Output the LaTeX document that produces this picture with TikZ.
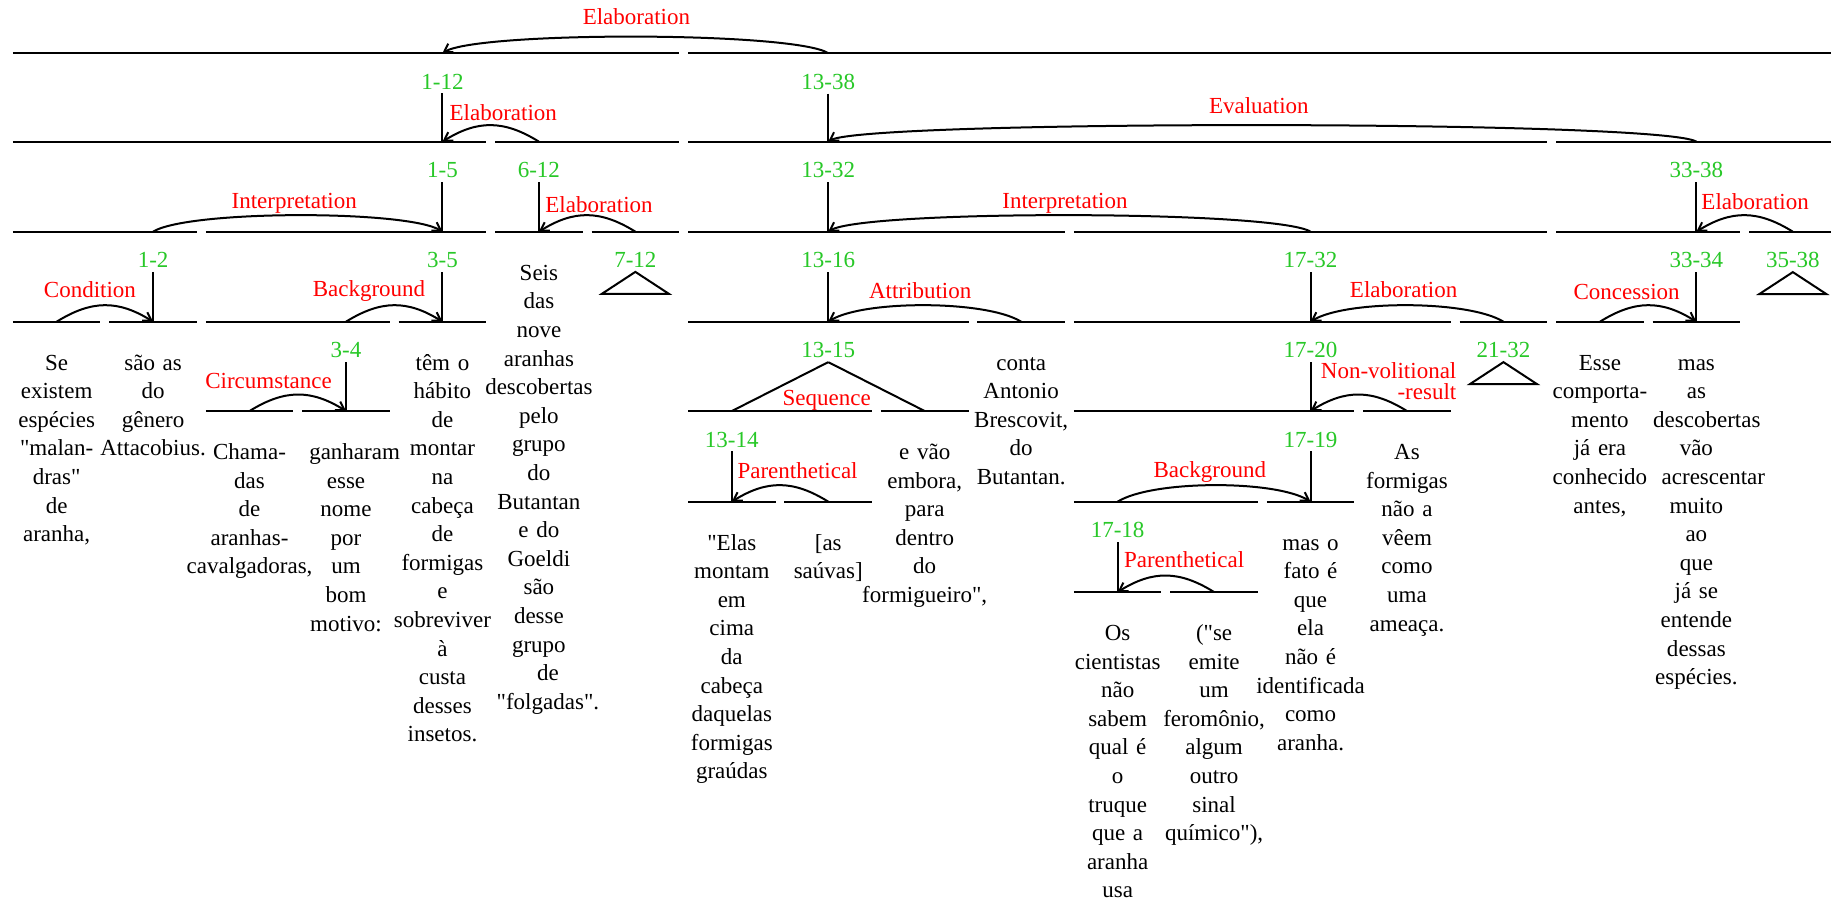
\documentclass[tikz,border=0pt]{standalone}
\usepackage{fontspec}
\setmainfont{Liberation Serif}[Ligatures=TeXOff]
\usetikzlibrary{arrows.meta,calc}
\definecolor{spangreen}{RGB}{40,200,40}
\definecolor{relred}{RGB}{255,0,0}

\begin{document}
\begin{tikzpicture}[
  x=0.58385pt, y=-0.58385pt,
  line width=1pt,
  spanlabel/.style={text=spangreen, anchor=base, inner sep=1.5pt, font=\fontsize{11.5}{14.3}\selectfont},
  rellabel/.style={text=relred, anchor=base, inner sep=0pt, font=\fontsize{11.5}{14.3}\selectfont},
  edu/.style={anchor=base, inner sep=0pt, text width=80pt, align=center, font=\fontsize{11.5}{14.3}\selectfont},
  relarc/.style={-{Straight Barb[length=4pt,width=5pt]},
    to path={.. controls ($(\tikztostart)!17.5pt!(\tikztotarget)+(0,10.9pt)$)
      and ($(\tikztotarget)!17.5pt!(\tikztostart)+(0,10.9pt)$) .. (\tikztotarget)}}
]
\fill[white] (0,0) rectangle (1568,773);
\useasboundingbox (0,0) rectangle (1568,773);

% span bars, one level at a time
\draw (11,45.5) -- (581.6,45.5) (589.2,45.5) -- (1568,45.5);
\draw (11,121.3) -- (416.4,121.3) (424,121.3) -- (581.6,121.3)
      (589.2,121.3) -- (1325,121.3) (1332.6,121.3) -- (1568,121.3);
\draw (11,198.4) -- (168.6,198.4) (176.2,198.4) -- (416.4,198.4)
      (424,198.4) -- (499,198.4) (506.6,198.4) -- (581.6,198.4)
      (589.2,198.4) -- (912,198.4) (919.6,198.4) -- (1325,198.4)
      (1332.6,198.4) -- (1490.2,198.4) (1497.8,198.4) -- (1568,198.4);
\draw (11,275.5) -- (86,275.5) (93.6,275.5) -- (168.6,275.5)
      (176.2,275.5) -- (333.8,275.5) (341.4,275.5) -- (416.4,275.5)
      (589.2,275.5) -- (829.4,275.5) (837,275.5) -- (912,275.5)
      (919.6,275.5) -- (1242.4,275.5) (1250,275.5) -- (1325,275.5)
      (1332.6,275.5) -- (1407.6,275.5) (1415.2,275.5) -- (1490.2,275.5);
\draw (176.2,352) -- (251.2,352) (258.8,352) -- (333.8,352)
      (589.2,352) -- (746.8,352) (754.4,352) -- (829.4,352)
      (919.6,352) -- (1159.8,352) (1167.4,352) -- (1242.4,352);
\draw (589.2,429.6) -- (664.2,429.6) (671.8,429.6) -- (746.8,429.6)
      (919.6,429.6) -- (1077.2,429.6) (1084.8,429.6) -- (1159.8,429.6);
\draw (919.6,507) -- (994.6,507) (1002.2,507) -- (1077.2,507);

% span numbers
\node[spanlabel] (s1_12) at (378.9,76.5) {1-12};
\node[spanlabel] (s13_38) at (709.3,76.5) {13-38};
\node[spanlabel] (s1_5) at (378.9,152.3) {1-5};
\node[spanlabel] (s6_12) at (461.5,152.3) {6-12};
\node[spanlabel] (s13_32) at (709.3,152.3) {13-32};
\node[spanlabel] (s33_38) at (1452.7,152.3) {33-38};
\node[spanlabel] (s1_2) at (131.1,229.4) {1-2};
\node[spanlabel] (s3_5) at (378.9,229.4) {3-5};
\node[spanlabel] (s7_12) at (544.1,229.4) {7-12};
\node[spanlabel] (s13_16) at (709.3,229.4) {13-16};
\node[spanlabel] (s17_32) at (1122.3,229.4) {17-32};
\node[spanlabel] (s33_34) at (1452.7,229.4) {33-34};
\node[spanlabel] (s35_38) at (1535.3,229.4) {35-38};
\node[spanlabel] (s3_4) at (296.3,306.5) {3-4};
\node[spanlabel] (s13_15) at (709.3,306.5) {13-15};
\node[spanlabel] (s17_20) at (1122.3,306.5) {17-20};
\node[spanlabel] (s21_32) at (1287.5,306.5) {21-32};
\node[spanlabel] (s13_14) at (626.7,383) {13-14};
\node[spanlabel] (s17_19) at (1122.3,383) {17-19};
\node[spanlabel] (s17_18) at (957.1,460.6) {17-18};

% where the nuclei meet their bar
\coordinate (r1_12) at (378.9,45.5);
\coordinate (r13_38) at (709.3,45.5);
\coordinate (b1_12) at (378.9,121.3);
\coordinate (b13_38) at (709.3,121.3);
\coordinate (b1_5) at (378.9,198.4);
\coordinate (b6_12) at (461.5,198.4);
\coordinate (b13_32) at (709.3,198.4);
\coordinate (b33_38) at (1452.7,198.4);
\coordinate (b1_2) at (131.1,275.5);
\coordinate (b3_5) at (378.9,275.5);
\coordinate (b13_16) at (709.3,275.5);
\coordinate (b17_32) at (1122.3,275.5);
\coordinate (b33_34) at (1452.7,275.5);
\coordinate (b3_4) at (296.3,352);
\coordinate (b17_20) at (1122.3,352);
\coordinate (b13_14) at (626.7,429.6);
\coordinate (b17_19) at (1122.3,429.6);
\coordinate (b17_18) at (957.1,507);

% where the satellites leave their bar
\coordinate (t6_12) at (461.5,121.3);
\coordinate (t33_38) at (1452.7,121.3);
\coordinate (t1_2) at (131.1,198.4);
\coordinate (t7_12) at (544.1,198.4);
\coordinate (t17_32) at (1122.3,198.4);
\coordinate (t35_38) at (1535.3,198.4);
\coordinate (t1) at (48.5,275.5);
\coordinate (t3_4) at (296.3,275.5);
\coordinate (t16) at (874.5,275.5);
\coordinate (t21_32) at (1287.5,275.5);
\coordinate (t33) at (1370.1,275.5);
\coordinate (t3) at (213.7,352);
\coordinate (t13_14) at (626.7,352);
\coordinate (t15) at (791.9,352);
\coordinate (t20) at (1204.9,352);
\coordinate (t14) at (709.3,429.6);
\coordinate (t17_18) at (957.1,429.6);
\coordinate (t18) at (1039.7,507);

% stems
\draw (s1_12.south) -- (b1_12);
\draw (s13_38.south) -- (b13_38);
\draw (s1_5.south) -- (b1_5);
\draw (s6_12.south) -- (b6_12);
\draw (s13_32.south) -- (b13_32);
\draw (s33_38.south) -- (b33_38);
\draw (s1_2.south) -- (b1_2);
\draw (s3_5.south) -- (b3_5);
\draw (s13_16.south) -- (b13_16);
\draw (s17_32.south) -- (b17_32);
\draw (s33_34.south) -- (b33_34);
\draw (s3_4.south) -- (b3_4);
\draw (s17_20.south) -- (b17_20);
\draw (s13_14.south) -- (b13_14);
\draw (s17_19.south) -- (b17_19);
\draw (s17_18.south) -- (b17_18);

% collapsed subtrees
\draw (s7_12.south) -- ++(28.7,18.8) -- ++(-57.4,0) -- cycle;
\draw (s35_38.south) -- ++(28.7,18.8) -- ++(-57.4,0) -- cycle;
\draw (s21_32.south) -- ++(28.7,18.8) -- ++(-57.4,0) -- cycle;

% multinuclear
\draw (s13_15.south) -- (t13_14);
\draw (s13_15.south) -- (t15);

% relation names
\node[rellabel] (l1_38) at (545,20.8) {Elaboration};
\node[rellabel] (l1_12) at (431,103.5) {Elaboration};
\node[rellabel] (l13_38) at (1078,97.5) {Evaluation};
\node[rellabel] (l1_5) at (252,178.5) {Interpretation};
\node[rellabel] (l6_12) at (513,182) {Elaboration};
\node[rellabel] (l13_32) at (912,178.5) {Interpretation};
\node[rellabel] (l33_38) at (1503,179) {Elaboration};
\node[rellabel] (l1_2) at (77,254.5) {Condition};
\node[rellabel] (l3_5) at (316,253.5) {Background};
\node[rellabel] (l13_16) at (788,256) {Attribution};
\node[rellabel] (l17_32) at (1202,254.5) {Elaboration};
\node[rellabel] (l33_34) at (1393,256.5) {Concession};
\node[rellabel] (l3_4) at (230,333) {Circumstance};
\node[rellabel] (l13_15) at (708,347.5) {Sequence};
\node[rellabel, anchor=base east, text width=80pt, align=right] (l17_20) at (1248,324.5) {Non-volitional\\[-4pt]-result};
\node[rellabel] (l13_14) at (683,410) {Parenthetical};
\node[rellabel] (l17_19) at (1036,409) {Background};
\node[rellabel] (l17_18) at (1014,486) {Parenthetical};

% relation arcs, satellite to nucleus
\draw[relarc] (r13_38) to (r1_12);
\draw[relarc] (t6_12) to (b1_12);
\draw[relarc] (t33_38) to (b13_38);
\draw[relarc] (t1_2) to (b1_5);
\draw[relarc] (t7_12) to (b6_12);
\draw[relarc] (t17_32) to (b13_32);
\draw[relarc] (t35_38) to (b33_38);
\draw[relarc] (t1) to (b1_2);
\draw[relarc] (t3_4) to (b3_5);
\draw[relarc] (t16) to (b13_16);
\draw[relarc] (t21_32) to (b17_32);
\draw[relarc] (t33) to (b33_34);
\draw[relarc] (t3) to (b3_4);
\draw[relarc] (t20) to (b17_20);
\draw[relarc] (t14) to (b13_14);
\draw[relarc] (t17_18) to (b17_19);
\draw[relarc] (t18) to (b17_18);

% text segments
\node[edu] (u1) at (48.5,317) {Se\\existem\\espécies\\"malan-\\dras"\\de\\aranha,};
\node[edu] (u2) at (131.1,317) {são as\\do\\gênero\\Attacobius.};
\node[edu] (u3) at (213.7,393.5) {Chama-\\das\\de\\aranhas-\\cavalgadoras,\hspace*{7.8pt}};
\node[edu] (u4) at (296.3,393.5) {\hspace*{8.6pt}ganharam\\esse\\nome\\por\\um\\bom\\motivo:};
\node[edu] (u5) at (378.9,317) {têm o\\hábito\\de\\montar\\na\\cabeça\\de\\formigas\\e\\sobreviver\\à\\custa\\desses\\insetos.};
\node[edu] (u6) at (461.5,240) {Seis\\das\\nove\\aranhas\\descobertas\\pelo\\grupo\\do\\Butantan\\e do\\Goeldi\\são\\desse\\grupo\\\hspace*{9pt}de\\\hspace*{9pt}"folgadas".};
\node[edu] (u13) at (626.7,471) {"Elas\\montam\\em\\cima\\da\\cabeça\\daquelas\\formigas\\graúdas};
\node[edu] (u14) at (709.3,471) {[as\\saúvas]};
\node[edu] (u15) at (791.9,393.5) {e vão\\embora,\\para\\dentro\\do\\formigueiro",};
\node[edu] (u16) at (874.5,317) {conta\\Antonio\\Brescovit,\\do\\Butantan.};
\node[edu] (u17) at (957.1,548.5) {Os\\cientistas\\não\\sabem\\qual é\\o\\truque\\que a\\aranha\\usa};
\node[edu] (u18) at (1039.7,548.5) {("se\\emite\\um\\feromônio,\\algum\\outro\\sinal\\químico"),};
\node[edu] (u19) at (1122.3,471) {mas o\\fato é\\que\\ela\\não é\\identificada\\como\\aranha.};
\node[edu] (u20) at (1204.9,393.5) {As\\formigas\\não a\\vêem\\como\\uma\\ameaça.};
\node[edu] (u33) at (1370.1,317) {Esse\\comporta-\\mento\\já era\\conhecido\hspace*{8.8pt}\\antes,};
\node[edu] (u34) at (1452.7,317) {mas\\as\\\hspace*{10.5pt}descobertas\\vão\\\hspace*{17pt}acrescentar\\muito\\ao\\que\\já se\\entende\\dessas\\espécies.};
\end{tikzpicture}
\end{document}
